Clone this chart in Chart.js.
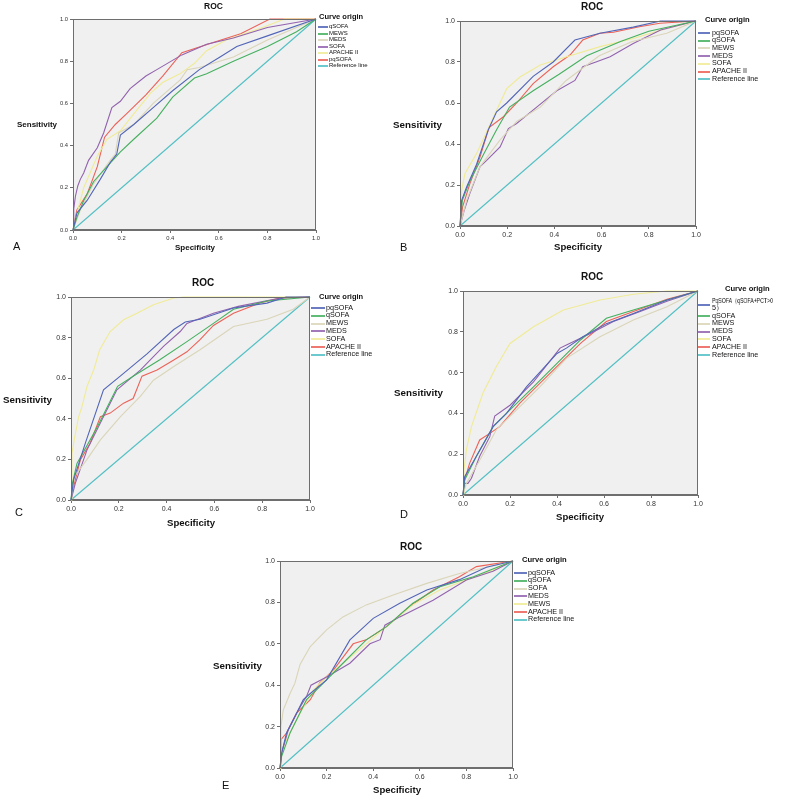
<!DOCTYPE html>
<html>
<head>
<meta charset="utf-8">
<script src="https://cdn.jsdelivr.net/npm/chart.js@4.4.1/dist/chart.umd.min.js"></script>
<style>
  body { margin: 0; background: #fff; width: 800px; height: 799px; overflow: hidden; position: relative;
         font-family: "Liberation Sans", Arial, sans-serif; }
  .t { position: absolute; white-space: nowrap; line-height: 1.15; color: #111; will-change: transform; }
  .b { font-weight: bold; }
  canvas { position: absolute; }
  .sw { position: absolute; height: 2px; z-index: 2; opacity: 0.85; }
</style>
</head>
<body>
<script>
// SPSS palette, used in legend order
const palette = ["#5265b8", "#44b05f", "#dad5b8", "#9262ae", "#f0eb95", "#ec6258", "#52c0c4"];
const refLine = [[0, 0], [1, 1]];
const tickValues = [0, 0.2, 0.4, 0.6, 0.8, 1.0];

// Panel A
const A_labels = ["qSOFA", "MEWS", "MEDS", "SOFA", "APACHE II", "pqSOFA", "Reference line"];
const A_qSOFA = [[0,0],[0.016,0.08],[0.058,0.14],[0.112,0.24],[0.153,0.32],[0.18,0.36],[0.195,0.45],[0.25,0.5],[0.33,0.58],[0.41,0.66],[0.52,0.76],[0.605,0.82],[0.674,0.87],[0.8,0.92],[1,1]];
const A_MEWS = [[0,0],[0.016,0.06],[0.044,0.14],[0.085,0.23],[0.14,0.3],[0.195,0.37],[0.25,0.43],[0.345,0.53],[0.41,0.63],[0.5,0.72],[0.55,0.74],[0.66,0.8],[0.8,0.87],[0.92,0.94],[1,1]];
const A_MEDS = [[0,0],[0.03,0.095],[0.085,0.22],[0.153,0.33],[0.174,0.36],[0.188,0.46],[0.25,0.5],[0.33,0.6],[0.44,0.71],[0.47,0.76],[0.52,0.77],[0.66,0.82],[0.8,0.9],[1,1]];
const A_SOFA = [[0,0],[0.003,0.1],[0.01,0.16],[0.02,0.21],[0.03,0.24],[0.044,0.27],[0.064,0.33],[0.1,0.39],[0.126,0.46],[0.16,0.58],[0.195,0.61],[0.235,0.67],[0.3,0.73],[0.345,0.76],[0.448,0.83],[0.55,0.88],[0.66,0.91],[0.8,0.96],[1,1]];
const A_APACHE = [[0,0],[0.01,0.05],[0.044,0.2],[0.1,0.35],[0.14,0.43],[0.195,0.47],[0.25,0.55],[0.32,0.65],[0.37,0.7],[0.44,0.74],[0.5,0.79],[0.55,0.85],[0.63,0.9],[0.78,0.96],[0.87,1],[1,1]];
const A_pqSOFA = [[0,0],[0.016,0.095],[0.058,0.17],[0.1,0.3],[0.13,0.44],[0.174,0.5],[0.22,0.55],[0.3,0.64],[0.37,0.73],[0.448,0.84],[0.58,0.89],[0.69,0.93],[0.81,1],[1,1]];

// Panel B
const B_labels = ["pqSOFA", "qSOFA", "MEWS", "MEDS", "SOFA", "APACHE II", "Reference line"];
const B_pqSOFA = [[0,0],[0.007,0.125],[0.028,0.19],[0.07,0.3],[0.12,0.47],[0.155,0.557],[0.198,0.6],[0.31,0.73],[0.395,0.8],[0.487,0.907],[0.593,0.94],[0.734,0.97],[0.85,1],[1,1]];
const B_qSOFA = [[0,0],[0.01,0.125],[0.042,0.22],[0.1,0.35],[0.155,0.47],[0.21,0.58],[0.31,0.66],[0.42,0.74],[0.537,0.83],[0.68,0.9],[0.8,0.95],[1,1]];
const B_MEWS = [[0,0],[0.028,0.125],[0.085,0.29],[0.17,0.42],[0.24,0.51],[0.34,0.58],[0.45,0.71],[0.59,0.83],[0.73,0.9],[0.876,0.94],[1,1]];
const B_MEDS = [[0,0],[0.018,0.077],[0.042,0.16],[0.085,0.29],[0.113,0.32],[0.17,0.386],[0.205,0.475],[0.24,0.5],[0.325,0.58],[0.41,0.66],[0.487,0.71],[0.52,0.777],[0.576,0.8],[0.636,0.826],[0.734,0.89],[0.85,0.956],[1,1]];
const B_SOFA = [[0,0],[0.007,0.174],[0.021,0.256],[0.07,0.353],[0.155,0.565],[0.198,0.67],[0.254,0.727],[0.34,0.785],[0.452,0.826],[0.593,0.875],[0.734,0.915],[0.876,0.964],[1,1]];
const B_APACHE = [[0,0],[0.011,0.093],[0.042,0.207],[0.085,0.337],[0.123,0.48],[0.184,0.533],[0.24,0.6],[0.31,0.695],[0.395,0.777],[0.466,0.834],[0.52,0.907],[0.593,0.94],[0.65,0.945],[0.76,0.972],[0.847,0.989],[1,1]];

// Panel C
const C_labels = ["pqSOFA", "qSOFA", "MEWS", "MEDS", "SOFA", "APACHE II", "Reference line"];
const C_pqSOFA = [[0,0],[0.011,0.1],[0.06,0.28],[0.136,0.543],[0.206,0.61],[0.318,0.72],[0.43,0.84],[0.478,0.877],[0.54,0.89],[0.68,0.946],[0.82,0.97],[0.9,1],[1,1]];
const C_qSOFA = [[0,0],[0.006,0.082],[0.025,0.18],[0.11,0.36],[0.195,0.56],[0.26,0.61],[0.37,0.69],[0.485,0.78],[0.596,0.87],[0.68,0.94],[0.82,0.98],[1,1]];
const C_MEWS = [[0,0],[0.014,0.115],[0.067,0.2],[0.123,0.296],[0.206,0.41],[0.29,0.51],[0.345,0.59],[0.43,0.658],[0.54,0.74],[0.68,0.855],[0.82,0.89],[0.93,0.94],[1,1]];
const C_MEDS = [[0,0],[0.018,0.082],[0.067,0.247],[0.192,0.543],[0.29,0.64],[0.387,0.757],[0.457,0.83],[0.485,0.87],[0.596,0.92],[0.7,0.954],[0.877,0.995],[1,1]];
const C_SOFA = [[0,0],[0.004,0.23],[0.014,0.3],[0.032,0.41],[0.046,0.46],[0.067,0.56],[0.095,0.64],[0.12,0.74],[0.164,0.83],[0.22,0.888],[0.276,0.92],[0.345,0.962],[0.43,0.995],[0.47,1],[1,1]];
const C_APACHE = [[0,0],[0.011,0.066],[0.039,0.197],[0.08,0.28],[0.123,0.41],[0.164,0.428],[0.22,0.477],[0.26,0.5],[0.297,0.61],[0.36,0.64],[0.43,0.69],[0.485,0.73],[0.54,0.79],[0.596,0.86],[0.68,0.92],[0.79,0.97],[0.875,0.995],[1,1]];

// Panel D
const D_labels = ["PqSOFA（qSOFA+PCT>0.5）", "qSOFA", "MEWS", "MEDS", "SOFA", "APACHE II", "Reference line"];
const D_pqSOFA = [[0,0],[0.007,0.09],[0.057,0.19],[0.128,0.335],[0.185,0.4],[0.27,0.53],[0.4,0.694],[0.44,0.72],[0.51,0.776],[0.61,0.84],[0.725,0.89],[0.868,0.956],[1,1]];
const D_qSOFA = [[0,0],[0.007,0.073],[0.057,0.19],[0.128,0.335],[0.2,0.417],[0.3,0.53],[0.4,0.645],[0.5,0.76],[0.61,0.866],[0.725,0.907],[0.868,0.956],[1,1]];
const D_MEWS = [[0,0],[0.014,0.057],[0.071,0.17],[0.142,0.32],[0.228,0.417],[0.327,0.53],[0.44,0.67],[0.583,0.776],[0.725,0.858],[0.868,0.923],[1,1]];
const D_MEDS = [[0,0],[0.007,0.057],[0.021,0.057],[0.036,0.082],[0.071,0.19],[0.114,0.286],[0.135,0.387],[0.2,0.44],[0.3,0.555],[0.413,0.72],[0.44,0.735],[0.54,0.79],[0.64,0.85],[0.754,0.9],[0.868,0.95],[1,1]];
const D_SOFA = [[0,0],[0.004,0.12],[0.014,0.22],[0.036,0.335],[0.085,0.5],[0.142,0.63],[0.2,0.743],[0.3,0.825],[0.427,0.907],[0.583,0.956],[0.725,0.984],[0.868,1],[1,1]];
const D_APACHE = [[0,0],[0.007,0.073],[0.028,0.155],[0.071,0.27],[0.114,0.302],[0.156,0.335],[0.242,0.45],[0.327,0.547],[0.413,0.645],[0.5,0.743],[0.61,0.85],[0.725,0.9],[0.868,0.96],[1,1]];

// Panel E
const E_labels = ["pqSOFA", "qSOFA", "SOFA", "MEDS", "MEWS", "APACHE II", "Reference line"];
const E_pqSOFA = [[0,0],[0.007,0.072],[0.028,0.169],[0.071,0.265],[0.1,0.33],[0.13,0.36],[0.2,0.426],[0.3,0.619],[0.4,0.723],[0.514,0.796],[0.63,0.86],[0.77,0.91],[0.886,0.97],[1,1]];
const E_qSOFA = [[0,0],[0.007,0.056],[0.043,0.169],[0.114,0.33],[0.186,0.41],[0.27,0.506],[0.37,0.619],[0.457,0.683],[0.57,0.796],[0.686,0.876],[0.83,0.924],[1,1]];
const E_SOFA = [[0,0],[0.004,0.2],[0.014,0.28],[0.043,0.36],[0.064,0.41],[0.086,0.5],[0.13,0.587],[0.2,0.667],[0.27,0.73],[0.37,0.788],[0.486,0.836],[0.63,0.892],[0.77,0.94],[0.886,0.97],[1,1]];
const E_MEDS = [[0,0],[0.007,0.072],[0.036,0.185],[0.079,0.28],[0.114,0.346],[0.133,0.4],[0.2,0.44],[0.3,0.506],[0.386,0.6],[0.43,0.62],[0.45,0.69],[0.514,0.73],[0.657,0.81],[0.8,0.908],[0.914,0.95],[1,1]];
const E_MEWS = [[0,0],[0.004,0.072],[0.028,0.137],[0.086,0.265],[0.143,0.378],[0.2,0.44],[0.286,0.52],[0.37,0.6],[0.457,0.683],[0.57,0.788],[0.686,0.86],[0.8,0.908],[0.914,0.957],[1,1]];
const E_APACHE = [[0,0],[0.004,0.137],[0.028,0.169],[0.071,0.265],[0.13,0.33],[0.17,0.41],[0.23,0.474],[0.314,0.6],[0.37,0.619],[0.457,0.683],[0.557,0.78],[0.657,0.86],[0.77,0.924],[0.843,0.973],[1,1]];

// layout of each panel (page pixels)
const panels = [
  { letter: "A", plot: [73, 19, 316, 230], labels: A_labels,
    curves: [A_qSOFA, A_MEWS, A_MEDS, A_SOFA, A_APACHE, A_pqSOFA, refLine],
    tick: 5.8, title: [213, 7, 8.5], sens: [17, 125, 8], spec: [175, 248, 8], let: [13, 247],
    head: [319, 17, 7.5], items: [329, 27, 6.5, 6], sw: [318, 328] },
  { letter: "B", plot: [460, 21, 696, 226], labels: B_labels,
    curves: [B_pqSOFA, B_qSOFA, B_MEWS, B_MEDS, B_SOFA, B_APACHE, refLine],
    tick: 7, title: [592, 7, 10], sensRight: [442, 125, 9.8], spec: [554, 247, 9.6], let: [400, 248],
    head: [705, 21, 7.6], items: [712, 33, 7.7, 7.2], sw: [698, 710] },
  { letter: "C", plot: [71, 297, 310, 500], labels: C_labels,
    curves: [C_pqSOFA, C_qSOFA, C_MEWS, C_MEDS, C_SOFA, C_APACHE, refLine],
    tick: 7, title: [203, 283, 10], sens: [3, 400, 9.8], spec: [167, 523, 9.6], let: [15, 513],
    head: [319, 297, 7.5], items: [326, 308, 7.8, 7.2], sw: [311, 325] },
  { letter: "D", plot: [463, 291, 698, 495], labels: D_labels,
    curves: [D_pqSOFA, D_qSOFA, D_MEWS, D_MEDS, D_SOFA, D_APACHE, refLine],
    tick: 7, title: [592, 277, 10], sensRight: [443, 393, 9.8], spec: [556, 517, 9.6], let: [400, 515],
    head: [725, 290, 7.6], items: [712, 316, 7.8, 7.2], firstY: 305, clipR: 770, sw: [698, 710] },
  { letter: "E", plot: [280, 561, 513, 768], labels: E_labels,
    curves: [E_pqSOFA, E_qSOFA, E_SOFA, E_MEDS, E_MEWS, E_APACHE, refLine],
    tick: 7, title: [411, 547, 10], sens: [213, 666, 9.8], spec: [373, 790, 9.6], let: [222, 786],
    head: [522, 561, 7.6], items: [528, 573, 7.8, 7.2], sw: [514, 527] },
];

function addText(txt, x, cy, size, bold, align) {
  const d = document.createElement("div");
  d.className = "t" + (bold ? " b" : "");
  d.textContent = txt;
  d.style.fontSize = size + "px";
  d.style.top = (cy - size * 0.6) + "px";
  document.body.appendChild(d);
  if (align === "center") d.style.left = (x - d.offsetWidth / 2) + "px";
  else if (align === "right") d.style.left = (x - d.offsetWidth) + "px";
  else d.style.left = x + "px";
  return d;
}

function addSwatch(x1, x2, y, color) {
  const s = document.createElement("div");
  s.className = "sw";
  s.style.left = x1 + "px";
  s.style.width = (x2 - x1) + "px";
  s.style.top = Math.round(y - 1) + "px";
  s.style.backgroundColor = color;
  document.body.appendChild(s);
}

const plotFrame = {
  id: "plotFrame",
  beforeDraw(chart) {
    const a = chart.chartArea, ctx = chart.ctx;
    ctx.save();
    ctx.fillStyle = "#f0f0f0";
    ctx.fillRect(a.left, a.top, a.right - a.left, a.bottom - a.top);
    ctx.restore();
  },
  afterDraw(chart) {
    const a = chart.chartArea, ctx = chart.ctx;
    ctx.save();
    ctx.strokeStyle = "#6e6e6e";
    ctx.lineWidth = 1;
    ctx.strokeRect(a.left + 0.5, a.top + 0.5, a.right - a.left - 1, a.bottom - a.top - 1);
    ctx.restore();
  }
};

const padL = 22, padT = 7, padR = 7, padB = 16;

panels.forEach((p) => {
  const [L, T, R, B] = p.plot;
  const cv = document.createElement("canvas");
  cv.width = R - L + padL + padR;
  cv.height = B - T + padT + padB;
  cv.style.left = (L - padL) + "px";
  cv.style.top = (T - padT) + "px";
  cv.style.width = cv.width + "px";
  cv.style.height = cv.height + "px";
  document.body.appendChild(cv);

  const datasets = p.curves.map((c, i) => ({
    label: p.labels[i],
    data: c.map(([x, y]) => ({ x, y })),
    borderColor: palette[i],
    borderWidth: 1.1,
    pointRadius: 0,
    tension: 0,
    fill: false,
    clip: 3,
  }));

  const tickFont = { family: "Liberation Sans, Arial", size: p.tick };
  const axis = (which) => ({
    type: "linear",
    min: 0,
    max: 1,
    afterBuildTicks: (s) => { s.ticks = tickValues.map((v) => ({ value: v })); },
    afterFit: (s) => { if (which === "x") s.height = padB; else s.width = padL; },
    ticks: { font: tickFont, color: "#333", padding: 2, maxRotation: 0, autoSkip: false,
             callback: (v) => Number(v).toFixed(1) },
    grid: { drawOnChartArea: false, drawTicks: true, tickLength: 3, color: "#6e6e6e" },
    border: { display: true, color: "#6e6e6e" },
  });

  new Chart(cv, {
    type: "line",
    data: { datasets },
    options: {
      responsive: false,
      animation: false,
      devicePixelRatio: 1,
      layout: { padding: { left: 0, top: padT, right: padR, bottom: 0 } },
      plugins: { legend: { display: false }, tooltip: { enabled: false } },
      scales: { x: axis("x"), y: axis("y") },
    },
    plugins: [plotFrame],
  });

  // texts
  addText("ROC", p.title[0], p.title[1], p.title[2], true, "center");
  if (p.sens) addText("Sensitivity", p.sens[0], p.sens[1], p.sens[2], true);
  else addText("Sensitivity", p.sensRight[0], p.sensRight[1], p.sensRight[2], true, "right");
  addText("Specificity", p.spec[0], p.spec[1], p.spec[2], true);
  addText(p.letter, p.let[0], p.let[1], 11, false);

  // legend
  addText("Curve origin", p.head[0], p.head[1], p.head[2], true);
  const [ix, iy, dy, isz] = p.items;
  p.labels.forEach((lab, i) => {
    if (p.firstY && i === 0) {
      // long label wraps onto two lines; the first one runs into the legend edge
      const l1 = addText("PqSOFA（qSOFA+PCT>0", ix, p.firstY - 3.2, isz);
      l1.style.transformOrigin = "0 50%";
      l1.style.transform = "scaleX(" + ((p.clipR - ix + 3) / l1.offsetWidth).toFixed(3) + ")";
      addText("5）", ix, p.firstY + 3.6, isz);
      addSwatch(p.sw[0], p.sw[1], p.firstY, palette[i]);
      return;
    }
    const y = iy + (p.firstY ? i - 1 : i) * dy;
    addText(lab, ix, y, isz);
    addSwatch(p.sw[0], p.sw[1], y, palette[i]);
  });
});
</script>
</body>
</html>
